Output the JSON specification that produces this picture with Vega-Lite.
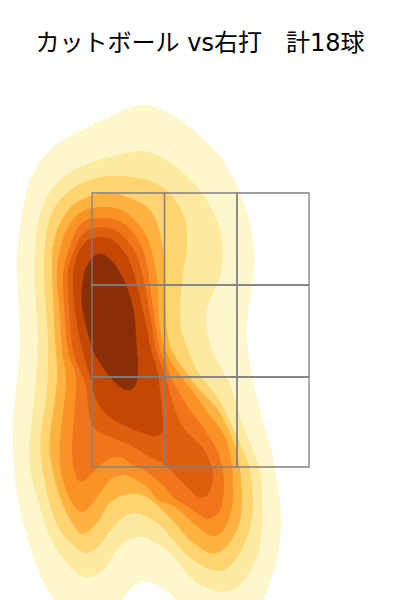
{"$schema":"https://vega.github.io/schema/vega-lite/v6.json","width":400,"height":600,"padding":0,"autosize":{"type":"none"},"background":"white","view":{"stroke":null},
"title":{"text":"カットボール vs右打　計18球","font":"DejaVu Sans, Noto Sans CJK JP","fontSize":24,"fontWeight":"normal","color":"#000000","anchor":"middle","frame":"group","offset":-56},
"datasets":{"contours":[
{"level":1,"i":0,"x":-0.58,"y":4.95},{"level":1,"i":1,"x":-0.33,"y":4.88},{"level":1,"i":2,"x":-0.03,"y":4.67},{"level":1,"i":3,"x":0.23,"y":4.40},{"level":1,"i":4,"x":0.40,"y":4.07},{"level":1,"i":5,"x":0.50,"y":3.77},{"level":1,"i":6,"x":0.54,"y":3.47},{"level":1,"i":7,"x":0.53,"y":3.23},{"level":1,"i":8,"x":0.47,"y":2.77},{"level":1,"i":9,"x":0.48,"y":2.50},{"level":1,"i":10,"x":0.53,"y":2.20},{"level":1,"i":11,"x":0.63,"y":1.80},{"level":1,"i":12,"x":0.73,"y":1.43},{"level":1,"i":13,"x":0.80,"y":0.97},{"level":1,"i":14,"x":0.81,"y":0.67},{"level":1,"i":15,"x":0.75,"y":0.33},{"level":1,"i":16,"x":0.63,"y":0.00},{"level":1,"i":17,"x":0.50,"y":-0.25},{"level":1,"i":18,"x":-0.10,"y":-0.25},{"level":1,"i":19,"x":-0.25,"y":0.00},{"level":1,"i":20,"x":-0.40,"y":0.13},{"level":1,"i":21,"x":-0.55,"y":0.18},{"level":1,"i":22,"x":-0.67,"y":0.13},{"level":1,"i":23,"x":-0.78,"y":0.00},{"level":1,"i":24,"x":-0.95,"y":-0.25},{"level":1,"i":25,"x":-1.30,"y":-0.25},{"level":1,"i":26,"x":-1.45,"y":0.00},{"level":1,"i":27,"x":-1.58,"y":0.20},{"level":1,"i":28,"x":-1.72,"y":0.60},{"level":1,"i":29,"x":-1.82,"y":1.00},{"level":1,"i":30,"x":-1.87,"y":1.43},{"level":1,"i":31,"x":-1.87,"y":1.77},{"level":1,"i":32,"x":-1.83,"y":2.20},{"level":1,"i":33,"x":-1.80,"y":2.60},{"level":1,"i":34,"x":-1.82,"y":3.03},{"level":1,"i":35,"x":-1.83,"y":3.47},{"level":1,"i":36,"x":-1.78,"y":3.87},{"level":1,"i":37,"x":-1.70,"y":4.20},{"level":1,"i":38,"x":-1.57,"y":4.43},{"level":1,"i":39,"x":-1.37,"y":4.60},{"level":1,"i":40,"x":-1.10,"y":4.74},{"level":1,"i":41,"x":-0.83,"y":4.87},
{"level":2,"i":0,"x":-0.60,"y":4.49},{"level":2,"i":1,"x":-0.43,"y":4.45},{"level":2,"i":2,"x":-0.20,"y":4.30},{"level":2,"i":3,"x":0.02,"y":4.07},{"level":2,"i":4,"x":0.18,"y":3.77},{"level":2,"i":5,"x":0.23,"y":3.47},{"level":2,"i":6,"x":0.20,"y":3.23},{"level":2,"i":7,"x":0.10,"y":3.00},{"level":2,"i":8,"x":0.06,"y":2.80},{"level":2,"i":9,"x":0.12,"y":2.50},{"level":2,"i":10,"x":0.25,"y":2.25},{"level":2,"i":11,"x":0.32,"y":2.10},{"level":2,"i":12,"x":0.42,"y":1.77},{"level":2,"i":13,"x":0.60,"y":1.30},{"level":2,"i":14,"x":0.62,"y":0.93},{"level":2,"i":15,"x":0.62,"y":0.73},{"level":2,"i":16,"x":0.57,"y":0.43},{"level":2,"i":17,"x":0.40,"y":0.15},{"level":2,"i":18,"x":0.22,"y":0.08},{"level":2,"i":19,"x":0.07,"y":0.12},{"level":2,"i":20,"x":-0.10,"y":0.23},{"level":2,"i":21,"x":-0.30,"y":0.47},{"level":2,"i":22,"x":-0.50,"y":0.60},{"level":2,"i":23,"x":-0.58,"y":0.63},{"level":2,"i":24,"x":-0.72,"y":0.60},{"level":2,"i":25,"x":-0.83,"y":0.50},{"level":2,"i":26,"x":-0.97,"y":0.30},{"level":2,"i":27,"x":-1.15,"y":0.23},{"level":2,"i":28,"x":-1.33,"y":0.37},{"level":2,"i":29,"x":-1.50,"y":0.63},{"level":2,"i":30,"x":-1.63,"y":1.03},{"level":2,"i":31,"x":-1.70,"y":1.33},{"level":2,"i":32,"x":-1.70,"y":1.60},{"level":2,"i":33,"x":-1.65,"y":2.10},{"level":2,"i":34,"x":-1.62,"y":2.60},{"level":2,"i":35,"x":-1.65,"y":3.10},{"level":2,"i":36,"x":-1.65,"y":3.47},{"level":2,"i":37,"x":-1.62,"y":3.77},{"level":2,"i":38,"x":-1.53,"y":4.03},{"level":2,"i":39,"x":-1.37,"y":4.23},{"level":2,"i":40,"x":-1.10,"y":4.37},{"level":2,"i":41,"x":-0.83,"y":4.45},
{"level":3,"i":0,"x":-0.77,"y":4.24},{"level":3,"i":1,"x":-0.47,"y":4.18},{"level":3,"i":2,"x":-0.27,"y":4.03},{"level":3,"i":3,"x":-0.15,"y":3.80},{"level":3,"i":4,"x":-0.13,"y":3.53},{"level":3,"i":5,"x":-0.17,"y":3.27},{"level":3,"i":6,"x":-0.20,"y":2.80},{"level":3,"i":7,"x":-0.12,"y":2.50},{"level":3,"i":8,"x":0.00,"y":2.25},{"level":3,"i":9,"x":0.12,"y":2.10},{"level":3,"i":10,"x":0.23,"y":1.93},{"level":3,"i":11,"x":0.43,"y":1.50},{"level":3,"i":12,"x":0.50,"y":1.30},{"level":3,"i":13,"x":0.53,"y":0.95},{"level":3,"i":14,"x":0.47,"y":0.63},{"level":3,"i":15,"x":0.33,"y":0.37},{"level":3,"i":16,"x":0.17,"y":0.29},{"level":3,"i":17,"x":-0.07,"y":0.40},{"level":3,"i":18,"x":-0.27,"y":0.60},{"level":3,"i":19,"x":-0.40,"y":0.75},{"level":3,"i":20,"x":-0.60,"y":0.86},{"level":3,"i":21,"x":-0.73,"y":0.85},{"level":3,"i":22,"x":-0.87,"y":0.73},{"level":3,"i":23,"x":-1.00,"y":0.55},{"level":3,"i":24,"x":-1.13,"y":0.47},{"level":3,"i":25,"x":-1.27,"y":0.55},{"level":3,"i":26,"x":-1.42,"y":0.73},{"level":3,"i":27,"x":-1.52,"y":1.03},{"level":3,"i":28,"x":-1.59,"y":1.40},{"level":3,"i":29,"x":-1.59,"y":1.67},{"level":3,"i":30,"x":-1.53,"y":2.10},{"level":3,"i":31,"x":-1.52,"y":2.60},{"level":3,"i":32,"x":-1.55,"y":3.03},{"level":3,"i":33,"x":-1.56,"y":3.37},{"level":3,"i":34,"x":-1.53,"y":3.70},{"level":3,"i":35,"x":-1.45,"y":3.93},{"level":3,"i":36,"x":-1.27,"y":4.12},{"level":3,"i":37,"x":-1.03,"y":4.22},
{"level":4,"i":0,"x":-0.93,"y":4.07},{"level":4,"i":1,"x":-0.70,"y":4.02},{"level":4,"i":2,"x":-0.50,"y":3.90},{"level":4,"i":3,"x":-0.40,"y":3.67},{"level":4,"i":4,"x":-0.35,"y":3.33},{"level":4,"i":5,"x":-0.34,"y":2.80},{"level":4,"i":6,"x":-0.28,"y":2.50},{"level":4,"i":7,"x":-0.12,"y":2.25},{"level":4,"i":8,"x":0.00,"y":2.10},{"level":4,"i":9,"x":0.18,"y":1.90},{"level":4,"i":10,"x":0.30,"y":1.67},{"level":4,"i":11,"x":0.38,"y":1.43},{"level":4,"i":12,"x":0.41,"y":1.20},{"level":4,"i":13,"x":0.42,"y":0.97},{"level":4,"i":14,"x":0.38,"y":0.73},{"level":4,"i":15,"x":0.25,"y":0.52},{"level":4,"i":16,"x":0.10,"y":0.47},{"level":4,"i":17,"x":-0.10,"y":0.60},{"level":4,"i":18,"x":-0.30,"y":0.82},{"level":4,"i":19,"x":-0.53,"y":1.03},{"level":4,"i":20,"x":-0.72,"y":1.06},{"level":4,"i":21,"x":-0.90,"y":0.97},{"level":4,"i":22,"x":-1.03,"y":0.77},{"level":4,"i":23,"x":-1.17,"y":0.66},{"level":4,"i":24,"x":-1.28,"y":0.77},{"level":4,"i":25,"x":-1.40,"y":1.03},{"level":4,"i":26,"x":-1.49,"y":1.37},{"level":4,"i":27,"x":-1.50,"y":1.63},{"level":4,"i":28,"x":-1.43,"y":2.20},{"level":4,"i":29,"x":-1.45,"y":2.60},{"level":4,"i":30,"x":-1.47,"y":3.03},{"level":4,"i":31,"x":-1.48,"y":3.30},{"level":4,"i":32,"x":-1.47,"y":3.53},{"level":4,"i":33,"x":-1.40,"y":3.77},{"level":4,"i":34,"x":-1.23,"y":3.98},
{"level":5,"i":0,"x":-0.97,"y":3.93},{"level":5,"i":1,"x":-0.73,"y":3.87},{"level":5,"i":2,"x":-0.53,"y":3.63},{"level":5,"i":3,"x":-0.45,"y":3.33},{"level":5,"i":4,"x":-0.42,"y":3.13},{"level":5,"i":5,"x":-0.41,"y":2.80},{"level":5,"i":6,"x":-0.35,"y":2.50},{"level":5,"i":7,"x":-0.20,"y":2.25},{"level":5,"i":8,"x":-0.08,"y":2.10},{"level":5,"i":9,"x":0.08,"y":1.87},{"level":5,"i":10,"x":0.25,"y":1.63},{"level":5,"i":11,"x":0.32,"y":1.33},{"level":5,"i":12,"x":0.33,"y":1.10},{"level":5,"i":13,"x":0.33,"y":0.97},{"level":5,"i":14,"x":0.25,"y":0.72},{"level":5,"i":15,"x":0.12,"y":0.64},{"level":5,"i":16,"x":-0.07,"y":0.77},{"level":5,"i":17,"x":-0.25,"y":0.93},{"level":5,"i":18,"x":-0.42,"y":1.00},{"level":5,"i":19,"x":-0.53,"y":1.13},{"level":5,"i":20,"x":-0.70,"y":1.23},{"level":5,"i":21,"x":-0.77,"y":1.25},{"level":5,"i":22,"x":-0.90,"y":1.20},{"level":5,"i":23,"x":-1.05,"y":1.00},{"level":5,"i":24,"x":-1.17,"y":0.88},{"level":5,"i":25,"x":-1.28,"y":0.97},{"level":5,"i":26,"x":-1.39,"y":1.27},{"level":5,"i":27,"x":-1.40,"y":1.60},{"level":5,"i":28,"x":-1.34,"y":2.17},{"level":5,"i":29,"x":-1.38,"y":2.50},{"level":5,"i":30,"x":-1.41,"y":2.97},{"level":5,"i":31,"x":-1.43,"y":3.17},{"level":5,"i":32,"x":-1.42,"y":3.40},{"level":5,"i":33,"x":-1.35,"y":3.67},{"level":5,"i":34,"x":-1.20,"y":3.87},
{"level":6,"i":0,"x":-0.97,"y":3.82},{"level":6,"i":1,"x":-0.77,"y":3.77},{"level":6,"i":2,"x":-0.60,"y":3.57},{"level":6,"i":3,"x":-0.52,"y":3.30},{"level":6,"i":4,"x":-0.50,"y":3.13},{"level":6,"i":5,"x":-0.45,"y":2.80},{"level":6,"i":6,"x":-0.40,"y":2.50},{"level":6,"i":7,"x":-0.30,"y":2.25},{"level":6,"i":8,"x":-0.22,"y":2.10},{"level":6,"i":9,"x":-0.10,"y":1.90},{"level":6,"i":10,"x":0.03,"y":1.73},{"level":6,"i":11,"x":0.17,"y":1.50},{"level":6,"i":12,"x":0.22,"y":1.33},{"level":6,"i":13,"x":0.24,"y":1.13},{"level":6,"i":14,"x":0.20,"y":0.90},{"level":6,"i":15,"x":0.08,"y":0.81},{"level":6,"i":16,"x":-0.07,"y":0.90},{"level":6,"i":17,"x":-0.27,"y":1.03},{"level":6,"i":18,"x":-0.35,"y":1.13},{"level":6,"i":19,"x":-0.53,"y":1.28},{"level":6,"i":20,"x":-0.70,"y":1.37},{"level":6,"i":21,"x":-0.80,"y":1.43},{"level":6,"i":22,"x":-0.93,"y":1.40},{"level":6,"i":23,"x":-1.08,"y":1.27},{"level":6,"i":24,"x":-1.18,"y":1.18},{"level":6,"i":25,"x":-1.25,"y":1.27},{"level":6,"i":26,"x":-1.28,"y":1.53},{"level":6,"i":27,"x":-1.24,"y":2.20},{"level":6,"i":28,"x":-1.32,"y":2.50},{"level":6,"i":29,"x":-1.37,"y":3.13},{"level":6,"i":30,"x":-1.35,"y":3.37},{"level":6,"i":31,"x":-1.28,"y":3.60},{"level":6,"i":32,"x":-1.17,"y":3.78},
{"level":7,"i":0,"x":-0.97,"y":3.73},{"level":7,"i":1,"x":-0.80,"y":3.67},{"level":7,"i":2,"x":-0.65,"y":3.48},{"level":7,"i":3,"x":-0.57,"y":3.23},{"level":7,"i":4,"x":-0.49,"y":2.80},{"level":7,"i":5,"x":-0.44,"y":2.50},{"level":7,"i":6,"x":-0.35,"y":2.25},{"level":7,"i":7,"x":-0.28,"y":2.00},{"level":7,"i":8,"x":-0.17,"y":1.73},{"level":7,"i":9,"x":0.02,"y":1.53},{"level":7,"i":10,"x":0.12,"y":1.33},{"level":7,"i":11,"x":0.13,"y":1.20},{"level":7,"i":12,"x":0.08,"y":1.05},{"level":7,"i":13,"x":-0.01,"y":1.03},{"level":7,"i":14,"x":-0.07,"y":1.07},{"level":7,"i":15,"x":-0.20,"y":1.20},{"level":7,"i":16,"x":-0.35,"y":1.35},{"level":7,"i":17,"x":-0.53,"y":1.45},{"level":7,"i":18,"x":-0.70,"y":1.55},{"level":7,"i":19,"x":-0.87,"y":1.62},{"level":7,"i":20,"x":-1.08,"y":1.75},{"level":7,"i":21,"x":-1.15,"y":2.17},{"level":7,"i":22,"x":-1.27,"y":2.50},{"level":7,"i":23,"x":-1.32,"y":3.13},{"level":7,"i":24,"x":-1.32,"y":3.30},{"level":7,"i":25,"x":-1.25,"y":3.52},{"level":7,"i":26,"x":-1.15,"y":3.68},
{"level":8,"i":0,"x":-0.98,"y":3.63},{"level":8,"i":1,"x":-0.85,"y":3.58},{"level":8,"i":2,"x":-0.72,"y":3.42},{"level":8,"i":3,"x":-0.63,"y":3.15},{"level":8,"i":4,"x":-0.55,"y":2.80},{"level":8,"i":5,"x":-0.49,"y":2.50},{"level":8,"i":6,"x":-0.42,"y":2.25},{"level":8,"i":7,"x":-0.37,"y":1.80},{"level":8,"i":8,"x":-0.38,"y":1.68},{"level":8,"i":9,"x":-0.47,"y":1.64},{"level":8,"i":10,"x":-0.70,"y":1.72},{"level":8,"i":11,"x":-0.93,"y":1.85},{"level":8,"i":12,"x":-1.05,"y":2.03},{"level":8,"i":13,"x":-1.10,"y":2.23},{"level":8,"i":14,"x":-1.15,"y":2.40},{"level":8,"i":15,"x":-1.20,"y":2.60},{"level":8,"i":16,"x":-1.26,"y":2.97},{"level":8,"i":17,"x":-1.27,"y":3.27},{"level":8,"i":18,"x":-1.22,"y":3.47},{"level":8,"i":19,"x":-1.12,"y":3.60},
{"level":9,"i":0,"x":-0.98,"y":3.46},{"level":9,"i":1,"x":-0.87,"y":3.38},{"level":9,"i":2,"x":-0.77,"y":3.22},{"level":9,"i":3,"x":-0.73,"y":3.13},{"level":9,"i":4,"x":-0.67,"y":2.93},{"level":9,"i":5,"x":-0.65,"y":2.80},{"level":9,"i":6,"x":-0.63,"y":2.50},{"level":9,"i":7,"x":-0.62,"y":2.40},{"level":9,"i":8,"x":-0.63,"y":2.20},{"level":9,"i":9,"x":-0.68,"y":2.11},{"level":9,"i":10,"x":-0.77,"y":2.11},{"level":9,"i":11,"x":-0.90,"y":2.23},{"level":9,"i":12,"x":-1.00,"y":2.37},{"level":9,"i":13,"x":-1.07,"y":2.50},{"level":9,"i":14,"x":-1.13,"y":2.70},{"level":9,"i":15,"x":-1.18,"y":2.93},{"level":9,"i":16,"x":-1.18,"y":3.13},{"level":9,"i":17,"x":-1.15,"y":3.30},{"level":9,"i":18,"x":-1.07,"y":3.43}
],"zone":[
{"x":-1.08,"x2":-0.355,"y":4.07,"y2":3.15},{"x":-0.355,"x2":0.37,"y":4.07,"y2":3.15},{"x":0.37,"x2":1.09,"y":4.07,"y2":3.15},
{"x":-1.08,"x2":-0.355,"y":3.15,"y2":2.23},{"x":-0.355,"x2":0.37,"y":3.15,"y2":2.23},{"x":0.37,"x2":1.09,"y":3.15,"y2":2.23},
{"x":-1.08,"x2":-0.355,"y":2.23,"y2":1.33},{"x":-0.355,"x2":0.37,"y":2.23,"y2":1.33},{"x":0.37,"x2":1.09,"y":2.23,"y2":1.33}
]},
"layer":[
{"data":{"name":"contours"},"mark":{"type":"line","interpolate":"cardinal-closed","tension":0,"filled":true,"strokeWidth":0,"clip":true},
"encoding":{"x":{"field":"x","type":"quantitative","scale":{"domain":[-2,2],"nice":false,"zero":false},"axis":null},"y":{"field":"y","type":"quantitative","scale":{"domain":[0,6],"nice":false,"zero":false},"axis":null},"order":{"field":"i","type":"quantitative"},"fill":{"field":"level","type":"ordinal","legend":null,"scale":{"domain":[1,2,3,4,5,6,7,8,9],"range":["#FFF7CC","#FEE9A1","#FED471","#FEB340","#FB9226","#F0751B","#DE600F","#C44704","#8A2E05"]}}}},
{"data":{"name":"zone"},"mark":{"type":"rect","fill":null,"stroke":"#808080","strokeWidth":1.3},
"encoding":{"x":{"field":"x","type":"quantitative","scale":{"domain":[-2,2],"nice":false,"zero":false},"axis":null},"x2":{"field":"x2"},"y":{"field":"y","type":"quantitative","scale":{"domain":[0,6],"nice":false,"zero":false},"axis":null},"y2":{"field":"y2"}}}
]}
